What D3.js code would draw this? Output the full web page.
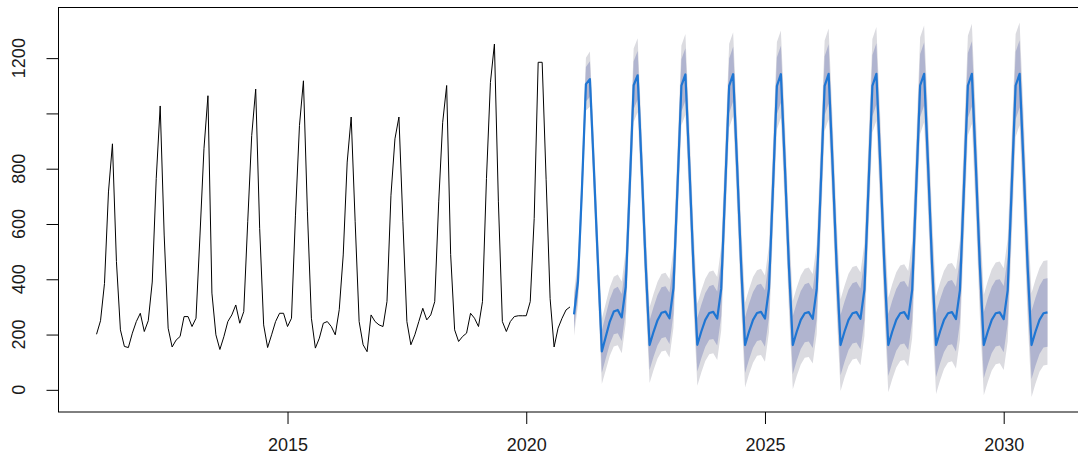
<!DOCTYPE html>
<html>
<head>
<meta charset="utf-8">
<script src="https://cdn.jsdelivr.net/npm/d3@7"></script>
<style>
  html, body { margin: 0; padding: 0; background: #fff; }
  svg { display: block; }
  text { font-family: "Liberation Sans", Arial, sans-serif; fill: #1a1a1a; }
</style>
</head>
<body>
<svg id="chart" width="1078" height="466"></svg>
<script>
// ---- data ----
const histStart = 2011;          // Jan 2011, monthly
const fcStart = 2021;            // Jan 2021, monthly
const history = [
  201, 250, 385, 716, 890, 464, 217, 157, 153, 205, 247, 277,
  211, 250, 390, 764, 1027, 560, 223, 155, 180, 193, 265, 265,
  229, 259, 560, 872, 1064, 350, 199, 146, 192, 247, 271, 307,
  241, 283, 608, 920, 1088, 584, 235, 153, 199, 247, 277, 277,
  229, 259, 632, 956, 1118, 644, 259, 151, 187, 241, 247, 229,
  199, 290, 488, 824, 987, 608, 247, 163, 138, 271, 247, 235,
  229, 320, 704, 908, 987, 608, 247, 163, 199, 247, 295, 253,
  271, 319, 680, 968, 1101, 490, 217, 175, 193, 205, 277, 259,
  229, 319, 764, 1112, 1251, 680, 247, 211, 247, 265, 268, 268,
  268, 319, 620, 1185, 1185, 760, 330, 155, 223, 259, 289, 300
];
const forecastMean = [
  273, 391, 728, 1106, 1124, 800, 464, 139, 193, 247, 283, 289,
  262, 372, 730, 1102, 1138, 808, 458, 162, 210, 252, 279, 283,
  259, 368, 729, 1101, 1141, 810, 455, 163, 211, 253, 278, 282,
  258, 366, 728, 1100, 1142, 811, 454, 162, 211, 253, 278, 282,
  258, 365, 728, 1100, 1142, 811, 453, 162, 211, 253, 277, 281,
  257, 364, 728, 1100, 1143, 812, 452, 162, 211, 253, 277, 281,
  257, 363, 728, 1100, 1143, 812, 452, 162, 211, 253, 277, 281,
  257, 362, 728, 1101, 1143, 812, 451, 162, 211, 253, 277, 281,
  256, 361, 728, 1101, 1143, 812, 451, 162, 211, 253, 277, 280,
  256, 360, 728, 1101, 1143, 812, 451, 162, 211, 253, 277, 280
];
const halfWidth80 = [
  51, 55, 59, 62, 65, 69, 73, 77, 79, 81, 82, 84,
  85, 86, 86, 87, 88, 88, 89, 90, 90, 91, 92, 92,
  93, 93, 94, 95, 95, 96, 96, 97, 97, 97, 97, 98,
  98, 99, 99, 99, 99, 100, 100, 101, 101, 101, 101, 102,
  102, 103, 103, 103, 103, 104, 104, 105, 105, 105, 105, 106,
  106, 107, 107, 107, 107, 108, 108, 109, 109, 109, 109, 110,
  110, 110, 111, 111, 111, 111, 112, 112, 112, 112, 113, 113,
  113, 114, 114, 114, 114, 115, 115, 116, 116, 116, 116, 116,
  117, 117, 118, 118, 118, 118, 119, 119, 120, 120, 120, 120,
  120, 121, 121, 122, 122, 122, 122, 123, 123, 123, 124, 124
];
const halfWidth95 = [
  78, 84, 90, 95, 100, 106, 112, 118, 121, 124, 126, 128,
  130, 131, 132, 133, 134, 135, 136, 137, 138, 139, 140, 141,
  142, 143, 144, 145, 146, 147, 147, 148, 148, 149, 149, 150,
  150, 151, 151, 152, 152, 153, 153, 154, 154, 155, 155, 156,
  156, 157, 157, 158, 158, 159, 159, 160, 160, 161, 161, 162,
  162, 163, 163, 164, 164, 165, 165, 166, 166, 167, 167, 168,
  168, 168, 169, 169, 170, 170, 171, 171, 172, 172, 173, 173,
  173, 174, 174, 175, 175, 176, 176, 177, 177, 178, 178, 178,
  179, 179, 180, 180, 181, 181, 182, 182, 183, 183, 184, 184,
  184, 185, 185, 186, 186, 187, 187, 188, 188, 188, 189, 189
];
const xTicks = [2015, 2020, 2025, 2030];
const yTicks = [0, 200, 400, 600, 800, 1000, 1200];
const yTickLabels = ["0", "200", "400", "600", "800", "", "1200"];

// ---- build tables ----
const histPts = history.map((v, i) => ({ t: histStart + i / 12, v }));
const fcPts = forecastMean.map((v, i) => ({
  t: fcStart + i / 12, v,
  lo80: v - halfWidth80[i], hi80: v + halfWidth80[i],
  lo95: v - halfWidth95[i], hi95: v + halfWidth95[i]
}));

// ---- scales (R-style 4% padding) ----
const tMin = histStart, tMax = fcStart + (forecastMean.length - 1) / 12;
const tPad = (tMax - tMin) * 0.04;
const vMin = d3.min(fcPts, d => d.lo95), vMax = d3.max(fcPts, d => d.hi95);
const vPad = (vMax - vMin) * 0.04;

const plot = { left: 58.5, top: 7.5, bottom: 412, right: 1085.5 };
const x = d3.scaleLinear().domain([tMin - tPad, tMax + tPad]).range([plot.left, plot.right]);
const y = d3.scaleLinear().domain([vMin - vPad, vMax + vPad]).range([plot.bottom, plot.top]);

const svg = d3.select("#chart");

// bands
svg.append("path").datum(fcPts)
  .attr("fill", "#DBDBE0")
  .attr("d", d3.area().x(d => x(d.t)).y0(d => y(d.lo95)).y1(d => y(d.hi95)));
svg.append("path").datum(fcPts)
  .attr("fill", "#B0B4CF")
  .attr("d", d3.area().x(d => x(d.t)).y0(d => y(d.lo80)).y1(d => y(d.hi80)));

// history line
svg.append("path").datum(histPts)
  .attr("fill", "none").attr("stroke", "#000").attr("stroke-width", 1)
  .attr("d", d3.line().x(d => x(d.t)).y(d => y(d.v)));

// forecast line
svg.append("path").datum(fcPts)
  .attr("fill", "none").attr("stroke", "#1F76D3").attr("stroke-width", 2.2)
  .attr("stroke-linejoin", "round")
  .attr("d", d3.line().x(d => x(d.t)).y(d => y(d.v)));

// box
svg.append("rect")
  .attr("x", plot.left).attr("y", plot.top)
  .attr("width", plot.right - plot.left).attr("height", plot.bottom - plot.top)
  .attr("fill", "none").attr("stroke", "#000").attr("stroke-width", 1);

// x axis
const gx = svg.append("g").attr("transform", `translate(0,${plot.bottom})`)
  .call(d3.axisBottom(x).tickValues(xTicks).tickSize(12).tickPadding(14).tickFormat(d3.format("d")));
gx.select(".domain").remove();
gx.selectAll("line").attr("stroke", "#000");
gx.selectAll("text").attr("font-size", 18).attr("font-family", "Liberation Sans, Arial, sans-serif").attr("fill", "#1a1a1a");

// y axis
const gy = svg.append("g").attr("transform", `translate(${plot.left},0)`)
  .call(d3.axisLeft(y).tickValues(yTicks).tickSize(12).tickFormat(""));
gy.select(".domain").remove();
gy.selectAll("line").attr("stroke", "#000");
svg.append("g").selectAll("text").data(yTicks.map((v, i) => ({ v, label: yTickLabels[i] })))
  .join("text")
  .attr("transform", d => `translate(25,${y(d.v)}) rotate(-90)`)
  .attr("text-anchor", "middle")
  .attr("font-size", 18)
  .text(d => d.label);
</script>
</body>
</html>
